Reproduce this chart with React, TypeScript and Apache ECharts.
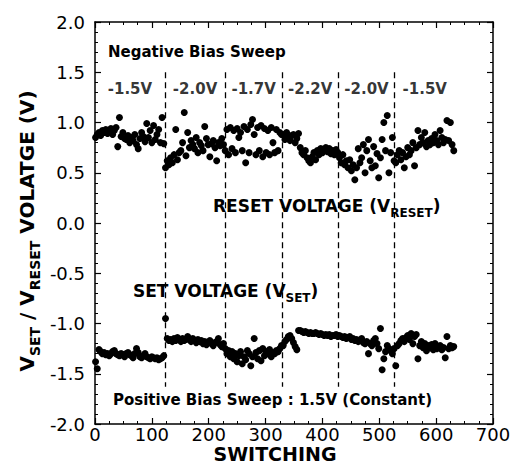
import React, { useEffect, useRef } from "react";
import * as echarts from "echarts";

// Switching number of the first plotted cycle and spacing between plotted cycles
const firstSwitching = 1;
const switchingStep = 3;

// RESET voltage (V), one value per plotted switching cycle
const resetVoltage = [
  // -1.5V
  0.85, 0.88, 0.9, 0.87, 0.92, 0.9, 0.93, 0.89, 0.91, 0.94,
  0.88, 0.92, 0.95, 0.76, 1.05, 0.86, 0.9, 0.84, 0.83, 0.87,
  0.8, 0.85, 0.82, 0.88, 0.78, 0.74, 0.84, 0.9, 0.86, 0.81,
  0.99, 0.85, 0.92, 0.8, 0.97, 0.83, 0.88, 0.93, 0.8, 1.05,
  0.79,
  // -2.0V
  0.55, 0.62, 0.58, 0.65, 0.6, 0.68, 0.93, 0.63, 0.7, 0.72,
  0.8, 1.1, 0.67, 0.9, 0.75, 0.82, 0.78, 0.74, 0.85, 0.7,
  0.8, 0.77, 0.72, 0.96, 0.84, 0.78, 0.66, 0.79, 0.82, 0.75,
  0.62, 0.8, 0.77, 0.84, 0.78,
  // -1.7V
  0.72, 0.93, 0.68, 0.95, 0.74, 0.92, 0.7, 0.94, 0.85, 0.9,
  0.72, 0.96, 0.6, 0.93, 0.7, 0.98, 1.03, 0.88, 0.68, 0.95,
  0.72, 0.97, 0.66, 0.94, 0.7, 0.92, 0.68, 0.95, 0.8, 0.7,
  0.93, 0.72, 0.9, 0.88,
  // -2.2V
  0.88, 0.83, 0.9, 0.85, 0.82, 0.87, 0.88, 0.8, 0.84, 0.89,
  0.75, 0.7, 0.68, 0.72, 0.65, 0.62, 0.6, 0.66, 0.7, 0.63,
  0.72, 0.68, 0.74, 0.7, 0.73, 0.75, 0.71, 0.74, 0.69, 0.72,
  0.68, 0.73, 0.7,
  // -2.0V
  0.65, 0.6, 0.68, 0.58, 0.62, 0.55, 0.63, 0.52, 0.58, 0.43,
  0.55, 0.74, 0.6, 0.65, 0.78, 0.5, 0.72, 0.83, 0.62, 0.55,
  0.76, 0.57, 0.69, 0.45, 0.65, 0.83, 1.0, 0.72, 1.07, 0.5,
  0.7, 0.85, 0.62,
  // -1.5V
  0.6, 0.68, 0.72, 0.63, 0.7, 0.55, 0.66, 0.75, 0.68, 0.72,
  0.8, 0.57, 0.75, 0.92, 0.78, 0.85, 0.8, 0.9, 0.76, 0.82,
  0.78, 0.84, 0.8, 0.88, 0.82, 0.78, 0.92, 0.85, 0.8, 0.83,
  1.02, 0.82, 1.0, 0.78, 0.72,
];

// SET voltage (V), one value per plotted switching cycle
const setVoltage = [
  -1.38, -1.45, -1.26, -1.28, -1.3, -1.29, -1.31, -1.3, -1.32, -1.3,
  -1.28, -1.27, -1.3, -1.31, -1.32, -1.3, -1.31, -1.33, -1.3, -1.29,
  -1.31, -1.32, -1.34, -1.3, -1.25, -1.29, -1.33, -1.34, -1.32, -1.3,
  -1.33, -1.34, -1.35, -1.33, -1.34, -1.35, -1.34, -1.36, -1.35, -1.34,
  -1.32,
  -0.95, -1.15, -1.17, -1.16, -1.18, -1.15, -1.17, -1.14, -1.16, -1.18,
  -1.15, -1.17, -1.16, -1.13, -1.16, -1.18, -1.15, -1.17, -1.19, -1.16,
  -1.18, -1.17, -1.2, -1.18, -1.21, -1.19, -1.17, -1.2, -1.22, -1.19,
  -1.18, -1.15, -1.21, -1.23, -1.2,
  -1.25, -1.3, -1.27, -1.33, -1.28, -1.35, -1.3, -1.38, -1.32, -1.28,
  -1.4, -1.33, -1.36, -1.27, -1.3, -1.42, -1.33, -1.15, -1.29, -1.35,
  -1.27, -1.37, -1.25, -1.32, -1.28, -1.3, -1.26, -1.33, -1.29, -1.3,
  -1.27, -1.28, -1.25, -1.22,
  -1.22, -1.18, -1.16, -1.13, -1.12, -1.15, -1.19, -1.23, -1.26, -1.07,
  -1.07, -1.08, -1.09, -1.08, -1.09, -1.1, -1.09, -1.1, -1.1, -1.09,
  -1.1, -1.11, -1.1, -1.11, -1.12, -1.11, -1.12, -1.11, -1.13, -1.12,
  -1.12, -1.11, -1.13,
  -1.12, -1.13, -1.14, -1.13, -1.15, -1.14, -1.13, -1.16, -1.15, -1.17,
  -1.16, -1.18, -1.17, -1.15, -1.19, -1.2, -1.18, -1.3, -1.2, -1.22,
  -1.17, -1.15, -1.2, -1.25, -1.05, -1.46, -1.35, -1.28, -1.22, -1.25,
  -1.27, -1.3, -1.25,
  -1.42, -1.22, -1.2, -1.17, -1.15, -1.18, -1.14, -1.12, -1.16, -1.1,
  -1.2, -1.13, -1.11, -1.35, -1.22, -1.18, -1.24, -1.2, -1.27, -1.22,
  -1.24, -1.21, -1.26, -1.2, -1.25, -1.23, -1.22, -1.26, -1.24, -1.34,
  -1.13, -1.25, -1.22, -1.24, -1.23,
];

// Negative-bias sweep segments
const sweepBoundaries = [123, 229, 329, 428, 527];
const sweepEnd = 633;
const sweepLabels = ["-1.5V", "-2.0V", "-1.7V", "-2.2V", "-2.0V", "-1.5V"];
const sweepLabelLevel = 1.335;
const boundaryTop = 1.5;
const boundaryBottom = -1.63;

const FONT = "DejaVu Sans";

export default function App() {
  const ref = useRef<HTMLDivElement>(null);

  useEffect(() => {
    if (!ref.current) return;
    const chart = echarts.init(ref.current, undefined, { renderer: "svg" });

    const toPoints = (vals: number[]) =>
      vals.map((v, i) => [firstSwitching + i * switchingStep, v]);

    const edges = [0, ...sweepBoundaries, sweepEnd];
    const labelData = sweepLabels.map((t, i) => ({
      name: t,
      value: [(edges[i] + edges[i + 1]) / 2, sweepLabelLevel],
    }));

    const axisCommon = {
      type: "value" as const,
      axisLine: { show: true, onZero: false, lineStyle: { color: "#000", width: 1.5 } },
      axisTick: { show: true, inside: true, length: 6, lineStyle: { color: "#000", width: 1.2 } },
      minorTick: { show: true, length: 3, lineStyle: { color: "#000", width: 1 } },
      splitLine: { show: false },
      minorSplitLine: { show: false },
    };

    const xCommon = { ...axisCommon, min: 0, max: 700, interval: 100, minorTick: { ...axisCommon.minorTick, splitNumber: 4 } };
    const yCommon = { ...axisCommon, min: -2, max: 2, interval: 0.5, minorTick: { ...axisCommon.minorTick, splitNumber: 5 } };

    const bold = { fontFamily: FONT, fontWeight: "bold" as const, fill: "#000" };
    const dotStyle = { color: "#000", opacity: 1 };

    chart.setOption({
      animation: false,
      grid: { left: 95, right: 28, top: 22, bottom: 44, containLabel: false },
      xAxis: [
        {
          ...xCommon,
          position: "bottom",
          axisLabel: { show: true, color: "#000", fontFamily: FONT, fontSize: 18, margin: 1 },
        },
        { ...xCommon, position: "top", axisLabel: { show: false } },
      ],
      yAxis: [
        {
          ...yCommon,
          position: "left",
          axisLabel: {
            show: true,
            color: "#000",
            fontFamily: FONT,
            fontSize: 18,
            margin: 10,
            formatter: (v: number) => v.toFixed(1),
          },
        },
        { ...yCommon, position: "right", axisLabel: { show: false } },
      ],
      series: [
        {
          name: "RESET",
          type: "scatter",
          xAxisIndex: 0,
          yAxisIndex: 0,
          symbolSize: 7,
          itemStyle: dotStyle,
          data: toPoints(resetVoltage),
          markLine: {
            silent: true,
            symbol: ["none", "none"],
            label: { show: false },
            lineStyle: { color: "#000", type: [6, 4], width: 1.3, opacity: 1 },
            data: sweepBoundaries.map((b) => [
              { coord: [b, boundaryTop] },
              { coord: [b, boundaryBottom] },
            ]),
          },
        },
        {
          name: "SET",
          type: "scatter",
          xAxisIndex: 0,
          yAxisIndex: 0,
          symbolSize: 7,
          itemStyle: dotStyle,
          data: toPoints(setVoltage),
        },
        {
          name: "sweep",
          type: "scatter",
          xAxisIndex: 0,
          yAxisIndex: 0,
          symbolSize: 0,
          silent: true,
          data: labelData,
          label: {
            show: true,
            position: "inside",
            formatter: "{b}",
            color: "#000",
            fontFamily: FONT,
            fontWeight: "bold",
            fontSize: 15,
          },
        },
      ],
      graphic: [
        {
          type: "text",
          x: 108,
          y: 52,
          style: { ...bold, text: "Negative Bias Sweep", fontSize: 15, align: "left", verticalAlign: "middle" },
        },
        {
          type: "text",
          x: 213,
          y: 206,
          style: {
            ...bold,
            text: "{m|RESET VOLTAGE (V}{s|RESET}{m|)}",
            fontSize: 17,
            align: "left",
            verticalAlign: "middle",
            rich: {
              m: { fontFamily: FONT, fontWeight: "bold", fontSize: 17, lineHeight: 30 },
              s: { fontFamily: FONT, fontWeight: "bold", fontSize: 12, padding: [14, 0, 0, 0] },
            },
          },
        },
        {
          type: "text",
          x: 133,
          y: 291,
          style: {
            ...bold,
            text: "{m|SET VOLTAGE (V}{s|SET}{m|)}",
            fontSize: 17,
            align: "left",
            verticalAlign: "middle",
            rich: {
              m: { fontFamily: FONT, fontWeight: "bold", fontSize: 17, lineHeight: 30 },
              s: { fontFamily: FONT, fontWeight: "bold", fontSize: 12, padding: [14, 0, 0, 0] },
            },
          },
        },
        {
          type: "text",
          x: 113,
          y: 400,
          style: { ...bold, text: "Positive Bias Sweep : 1.5V (Constant)", fontSize: 15, align: "left", verticalAlign: "middle" },
        },
        {
          type: "text",
          x: 275,
          y: 454,
          style: { ...bold, text: "SWITCHING", fontSize: 19, align: "center", verticalAlign: "middle" },
        },
        {
          type: "text",
          x: 27,
          y: 231,
          rotation: Math.PI / 2,
          style: {
            ...bold,
            text: "{m|V}{s|SET}{m| / V}{s|RESET}{m| VOLATGE (V)}",
            fontSize: 20,
            align: "center",
            verticalAlign: "middle",
            rich: {
              m: { fontFamily: FONT, fontWeight: "bold", fontSize: 20, lineHeight: 34 },
              s: { fontFamily: FONT, fontWeight: "bold", fontSize: 14, padding: [16, 0, 0, 0] },
            },
          },
        },
      ],
    });

    return () => chart.dispose();
  }, []);

  return (
    <div
      ref={ref}
      style={{ position: "fixed", left: 0, top: 0, width: 521, height: 468, background: "#fff" }}
    />
  );
}
